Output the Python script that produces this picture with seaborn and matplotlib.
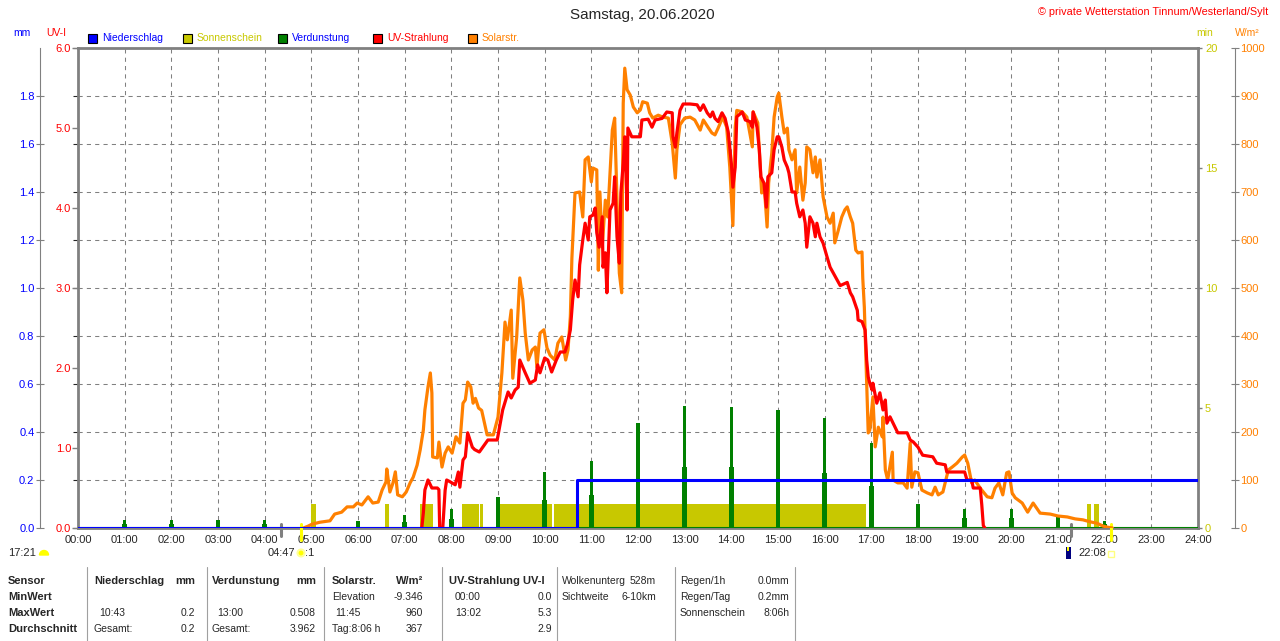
import numpy as np
import matplotlib
matplotlib.use("Agg")
import matplotlib.pyplot as plt
import matplotlib.transforms as mtrans
from matplotlib.patches import Rectangle, Wedge, Circle
from matplotlib.lines import Line2D
import seaborn as sns

# ---- data -------------------------------------------------------------
hours = list(range(25))
hour_labels = [f"{h:02d}:00" for h in hours]

# Solarstrahlung (W/m2), time in minutes after midnight
solar_t = [290, 296, 301, 311, 324, 330, 339, 346, 354, 359, 365, 373, 379, 386, 391, 396, 397, 401, 405, 408,
           411, 417, 422, 427, 431, 436, 440, 444, 446, 450, 453, 455, 456, 462, 464, 468, 472, 476, 481, 486,
           491, 495, 498, 501, 505, 508, 511, 515, 519, 526, 534, 540, 545, 549, 552, 557, 559, 564, 568, 572,
           575, 579, 584, 588, 590, 594, 599, 603, 607, 613, 617, 622, 627, 630, 633, 635, 639, 645, 649, 652,
           656, 660, 662, 667, 669, 671, 674, 678, 681, 687, 690, 693, 696, 699, 701, 703, 706, 710, 714, 719,
           723, 726, 732, 735, 739, 746, 752, 759, 764, 768, 770, 774, 780, 787, 793, 800, 804, 810, 815, 819,
           823, 829, 834, 838, 842, 845, 847, 854, 860, 867, 868, 874, 879, 882, 886, 888, 892, 895, 899, 901,
           905, 908, 912, 914, 918, 922, 924, 928, 932, 935, 937, 941, 945, 948, 950, 954, 958, 963, 967, 971,
           973, 977, 982, 986, 989, 993, 996, 1000, 1003, 1008, 1009, 1011, 1016, 1018, 1022, 1025, 1029, 1034,
           1035, 1038, 1041, 1047, 1048, 1054, 1061, 1066, 1070, 1072, 1076, 1080, 1085, 1092, 1098, 1102, 1106,
           1112, 1119, 1124, 1130, 1137, 1140, 1144, 1149, 1153, 1160, 1169, 1175, 1179, 1184, 1189, 1194, 1197,
           1201, 1205, 1214, 1221, 1228, 1237, 1250, 1260, 1272, 1282, 1292, 1301, 1310, 1318, 1323, 1330]
solar_w = [0, 4, 8, 12, 15, 29, 33, 44, 44, 52, 48, 65, 52, 54, 79, 96, 123, 75, 94, 117,
           69, 65, 75, 94, 106, 131, 163, 204, 246, 294, 323, 281, 148, 146, 179, 127, 156, 169, 156, 190,
           177, 260, 267, 304, 294, 260, 270, 250, 245, 194, 194, 231, 323, 429, 392, 454, 312, 398, 521, 475,
           406, 350, 371, 377, 335, 406, 413, 375, 360, 350, 385, 398, 350, 371, 440, 562, 698, 700, 648, 767,
           773, 721, 750, 746, 537, 700, 585, 683, 648, 829, 854, 683, 531, 490, 885, 958, 913, 902, 877, 865,
           871, 888, 885, 865, 854, 860, 856, 854, 802, 729, 788, 840, 854, 856, 850, 829, 850, 835, 823, 819,
           833, 856, 835, 752, 630, 835, 870, 867, 856, 794, 867, 844, 698, 719, 627, 719, 781, 856, 898, 906,
           856, 823, 833, 788, 767, 788, 698, 752, 683, 719, 794, 788, 740, 773, 731, 767, 690, 648, 635, 656,
           594, 617, 648, 663, 669, 648, 635, 579, 573, 575, 520, 460, 198, 204, 273, 169, 210, 190,
           231, 121, 100, 158, 100, 94, 94, 83, 177, 85, 117, 115, 79, 73, 69, 85, 69,
           75, 121, 127, 135, 148, 152, 135, 94, 100, 83, 65, 63, 83, 94, 69, 115, 117,
           73, 63, 52, 33, 52, 31, 29, 25, 23, 19, 17, 13, 10, 4, 2, 0]

# UV-Strahlung (UV-Index)
uv_t = [442, 444, 446, 450, 455, 462, 464, 465, 469, 472, 474, 478, 485, 489, 491, 495, 498, 501, 507, 510,
        516, 527, 539, 546, 553, 557, 562, 566, 568, 575, 581, 588, 591, 594, 600, 604, 609, 615, 620, 626,
        629, 633, 636, 639, 643, 645, 649, 652, 656, 658, 662, 665, 667, 670, 674, 675, 678, 680, 684, 688,
        690, 693, 696, 698, 701, 703, 706, 707, 712, 723, 725, 733, 738, 742, 751, 757, 764, 765, 768, 770,
        774, 778, 787, 796, 800, 804, 809, 813, 816, 819, 823, 828, 832, 836, 840, 842, 845, 847, 854, 858,
        864, 867, 868, 873, 876, 878, 882, 885, 887, 892, 895, 899, 901, 905, 908, 912, 914, 918, 922, 924,
        928, 932, 935, 937, 941, 945, 948, 950, 954, 958, 963, 967, 971, 976, 980, 989, 993, 996, 1002, 1003,
        1008, 1012, 1014, 1016, 1018, 1021, 1022, 1027, 1031, 1035, 1038, 1040, 1044, 1048, 1054, 1066, 1070,
        1074, 1080, 1086, 1099, 1104, 1115, 1117, 1140, 1143, 1149, 1151, 1160, 1162, 1164, 1166]
uv_i = [0, 0.19, 0.475, 0.6, 0.5, 0.5, 0.48, 0, 0, 0.47, 0.6, 0.58, 0.54, 0.7, 0.51, 0.85, 0.89, 1.19, 1.01, 0.98,
        0.95, 1.1, 1.1, 1.475, 1.7, 1.625, 1.725, 1.76, 2.1, 1.94, 1.81, 1.85, 2.04, 1.94, 2.125, 2.1, 1.95, 2.1, 2.2, 2.2,
        2.29, 2.475, 2.85, 3.1, 2.89, 3.29, 3.6, 3.81, 3.6, 3.89, 3.91, 4.0, 3.69, 3.51, 3.89, 3.26, 3.44, 2.94, 3.975, 4.06,
        4.39, 3.64, 3.31, 4.19, 4.56, 4.89, 3.975, 5.0, 4.89, 4.89, 5.1, 5.11, 5.01, 5.1, 5.12, 5.2, 5.19, 4.89, 4.76, 4.94,
        5.22, 5.3, 5.3, 5.29, 5.22, 5.29, 5.19, 5.14, 5.2, 5.12, 5.08, 5.19, 5.12, 4.95, 4.56, 4.26, 4.51, 5.14, 5.2, 5.1,
        5.08, 5.01, 5.2, 5.01, 4.73, 4.39, 4.31, 4.01, 4.39, 4.44, 4.73, 4.89, 4.89, 4.76, 4.6, 4.51, 4.44, 4.2, 4.2, 4.06,
        3.89, 3.975, 3.81, 3.51, 3.89, 3.81, 3.64, 3.81, 3.64, 3.56, 3.39, 3.26, 3.19, 3.1, 3.03, 3.07, 2.94, 2.89, 2.72, 2.6,
        2.58, 2.475, 2.1, 1.89, 1.81, 1.725, 1.81, 1.56, 1.69, 1.475, 1.6, 1.31, 1.39, 1.31, 1.19, 1.19, 1.1,
        1.075, 1.01, 0.91, 0.89, 0.81, 0.79, 0.7, 0.7, 0.6, 0.6, 0.5, 0.5, 0.29, 0.03, 0]

# Verdunstung (mm), hourly values
evap_hour = [1, 2, 3, 4, 6, 7, 8, 9, 10, 11, 12, 13, 14, 15, 16, 17, 18, 19, 20, 21, 22]
evap_mm = [0.033, 0.033, 0.033, 0.033, 0.03, 0.054, 0.079, 0.129, 0.233, 0.279, 0.4375, 0.508, 0.505,
           0.49, 0.46, 0.354, 0.10, 0.08, 0.08, 0.054, 0.03]

# Sonnenschein (min per minute), intervals in minutes
sun_start = [300, 395, 440, 494, 517, 543, 612, 1297, 1306]
sun_end = [306, 400, 456, 516, 521, 609, 1013, 1302, 1313]
sun_min = [1.0, 1.0, 1.0, 1.0, 1.0, 1.0, 1.0, 1.0, 1.0]

# Niederschlag (mm)
rain_t = [0, 641, 642, 1440]
rain_mm = [0.0, 0.1, 0.2, 0.2]

moonrise, sunrise, moonset, sunset = 4 + 21 / 60, 4 + 47 / 60, 21 + 17 / 60, 22 + 8 / 60

BLUE, RED, ORANGE, OLIVE, GREEN, GREY = "#0000FF", "#FF0000", "#FF8000", "#C8C800", "#008000", "#808080"

sns.set_style("white")
plt.rcParams['font.family'] = ['Liberation Sans', 'DejaVu Sans']
FS = 7.5
TFS = 8

W, H = 1280, 641


def fx(x):
    return x / W


def fy(y):
    return 1 - y / H


fig = plt.figure(figsize=(12.8, 6.41), dpi=100)
ax = fig.add_axes([fx(78), fy(528), 1120 / W, 480 / H])

# host: frame + grid
ax.set_xlim(0, 24)
ax.set_ylim(0, 2)
ax.set_xticks(hours)
ax.set_xticklabels(hour_labels, fontsize=TFS)
ax.set_yticks(np.arange(0, 2.01, 0.2))
ax.tick_params(axis='y', left=False, labelleft=False)
ax.tick_params(axis='x', length=0, pad=5)
ax.grid(True, color=GREY, linestyle=(0, (4, 4)), linewidth=0.75)
for s in ax.spines.values():
    s.set_color(GREY)
    s.set_linewidth(2)


def twin():
    t = ax.twinx()
    for s in t.spines.values():
        s.set_visible(False)
    t.grid(False)
    return t


# sunshine bars
ax_min = twin()
ax_min.bar(np.array(sun_start) / 60, sun_min, width=(np.array(sun_end) - np.array(sun_start)) / 60,
           align='edge', color=OLIVE, linewidth=0)
ax_min.set_ylim(0, 20)
ax_min.set_yticks([0, 5, 10, 15, 20])
ax_min.tick_params(axis='y', right=True, length=3, width=1, color=GREY, labelcolor=OLIVE,
                   labelsize=TFS, pad=2)

# evaporation + mm axis
ax_ev = twin()
ax_ev.axhline(0, color=GREEN, lw=1.5)
ax_ev.bar(evap_hour, np.array(evap_mm) / 2, width=0.1, color=GREEN, linewidth=0)
ax_ev.bar(evap_hour, evap_mm, width=0.065, color=GREEN, linewidth=0)
ax_ev.set_ylim(0, 2)
ax_ev.yaxis.tick_left()
ax_ev.spines['left'].set_visible(True)
ax_ev.spines['left'].set_position(('outward', 27.4))
ax_ev.spines['left'].set_color(GREY)
ax_ev.spines['left'].set_linewidth(0.8)
ax_ev.set_yticks(np.arange(0, 1.81, 0.2))
ax_ev.set_yticklabels([f"{v:.1f}" for v in np.arange(0, 1.81, 0.2)])
ax_ev.tick_params(axis='y', left=True, right=False, labelleft=True, labelright=False, direction='inout',
                  length=6, width=0.8, color=GREY, labelcolor=BLUE, labelsize=TFS, pad=1)

# solar
ax_sol = twin()
sns.lineplot(x=np.array(solar_t) / 60, y=solar_w, ax=ax_sol, color=ORANGE, linewidth=2.3,
             estimator=None, sort=False)
ax_sol.set_ylim(0, 1000)
ax_sol.set_yticks(range(0, 1001, 100))
ax_sol.spines['right'].set_visible(True)
ax_sol.spines['right'].set_position(('outward', 26.6))
ax_sol.spines['right'].set_color(GREY)
ax_sol.spines['right'].set_linewidth(0.8)
ax_sol.tick_params(axis='y', right=True, direction='inout', length=6, width=0.8, color=GREY,
                   labelcolor=ORANGE, labelsize=TFS, pad=1)
ax_sol.set_ylabel("")

# UV
ax_uv = twin()
sns.lineplot(x=np.array(uv_t) / 60, y=uv_i, ax=ax_uv, color=RED, linewidth=2.3,
             estimator=None, sort=False)
ax_uv.set_ylim(0, 6)
ax_uv.yaxis.tick_left()
ax_uv.set_yticks(range(7))
ax_uv.set_yticklabels([f"{v:.1f}" for v in range(7)])
ax_uv.tick_params(axis='y', left=True, right=False, labelleft=True, labelright=False, length=4,
                  width=1, color=GREY, labelcolor=RED, labelsize=TFS, pad=1)
ax_uv.set_ylabel("")

# precipitation on top
ax_pr = twin()
ax_pr.plot(np.array(rain_t) / 60, rain_mm, color=BLUE, lw=2.2, drawstyle='steps-post')
ax_pr.set_ylim(0, 2)
ax_pr.set_yticks([])
ax.set_xlim(0, 24)

# sun / moon markers below axis
for t in (moonrise, moonset):
    ax.axvline(t, ymin=-0.017, ymax=0.008, color=GREY, lw=2.2, clip_on=False)
for t in (sunrise, sunset):
    ax.axvline(t, ymin=-0.024, ymax=0.008, color='#FFFF00', lw=2.2, clip_on=False, zorder=5)

# ---- texts --------------------------------------------------------------
fig.text(fx(642), fy(15), "Samstag, 20.06.2020", ha='center', va='center', fontsize=11)
fig.text(fx(1268), fy(12), "\u00a9 private Wetterstation Tinnum/Westerland/Sylt", ha='right', va='center',
         fontsize=7.8, color=RED)
fig.text(fx(22), fy(33), "mm", ha='center', va='center', fontsize=FS, color=BLUE)
fig.text(fx(56), fy(33), "UV-I", ha='center', va='center', fontsize=FS, color=RED)
fig.text(fx(1205), fy(33), "min", ha='center', va='center', fontsize=FS, color=OLIVE)
fig.text(fx(1247), fy(33), "W/m\u00b2", ha='center', va='center', fontsize=FS, color=ORANGE)

legend_items = [("Niederschlag", BLUE, BLUE), ("Sonnenschein", OLIVE, OLIVE), ("Verdunstung", GREEN, BLUE),
                ("UV-Strahlung", RED, RED), ("Solarstr.", ORANGE, ORANGE)]
for i, (lab, fc, tc) in enumerate(legend_items):
    x0 = 88 + 95 * i
    fig.add_artist(Rectangle((fx(x0), fy(43)), 9 / W, 9 / H, transform=fig.transFigure,
                             facecolor=fc, edgecolor='black', lw=0.8))
    fig.text(fx(x0 + 14), fy(38), lab, ha='left', va='center', fontsize=FS, color=tc)

ident = mtrans.IdentityTransform()
fig.text(fx(8), fy(553), "17:21", ha='left', va='center', fontsize=TFS)
fig.add_artist(Wedge((44, H - 555), 4.5, 0, 180, transform=ident, color='#FFFF00'))
fig.text(fx(295), fy(553), "04:47", ha='right', va='center', fontsize=TFS)
fig.add_artist(Circle((301, H - 553), 3.5, transform=ident, facecolor='#FFFF00', edgecolor='#FFFF99', lw=1.5))
fig.text(fx(305), fy(553), ":1", ha='left', va='center', fontsize=TFS)
fig.add_artist(Rectangle((1066, H - 559), 5, 12, transform=ident, facecolor='#000080', lw=0))
fig.add_artist(Rectangle((1067, H - 551), 2, 4, transform=ident, facecolor='#FFFF00', lw=0))
fig.text(fx(1078), fy(553), "22:08", ha='left', va='center', fontsize=TFS)
fig.add_artist(Rectangle((1108, H - 557), 6, 6, transform=ident, facecolor='none', edgecolor='#FFFF80', lw=1))

# bottom table
rows = [581, 597, 613, 629]
cells = [
    (8, 0, "Sensor", 'left', True), (8, 1, "MinWert", 'left', True), (8, 2, "MaxWert", 'left', True),
    (8, 3, "Durchschnitt", 'left', True),
    (94, 0, "Niederschlag", 'left', True), (195, 0, "mm", 'right', True),
    (99, 2, "10:43", 'left', False), (195, 2, "0.2", 'right', False),
    (94, 3, "Gesamt:", 'left', False), (195, 3, "0.2", 'right', False),
    (212, 0, "Verdunstung", 'left', True), (316, 0, "mm", 'right', True),
    (217, 2, "13:00", 'left', False), (316, 2, "0.508", 'right', False),
    (212, 3, "Gesamt:", 'left', False), (316, 3, "3.962", 'right', False),
    (332, 0, "Solarstr.", 'left', True), (423, 0, "W/m\u00b2", 'right', True),
    (332, 1, "Elevation", 'left', False), (423, 1, "-9.346", 'right', False),
    (335, 2, "11:45", 'left', False), (423, 2, "960", 'right', False),
    (332, 3, "Tag:8:06 h", 'left', False), (423, 3, "367", 'right', False),
    (449, 0, "UV-Strahlung UV-I", 'left', True),
    (455, 1, "00:00", 'left', False), (552, 1, "0.0", 'right', False),
    (455, 2, "13:02", 'left', False), (552, 2, "5.3", 'right', False),
    (552, 3, "2.9", 'right', False),
    (562, 0, "Wolkenunterg", 'left', False), (656, 0, "528m", 'right', False),
    (562, 1, "Sichtweite", 'left', False), (656, 1, "6-10km", 'right', False),
    (680, 0, "Regen/1h", 'left', False), (789, 0, "0.0mm", 'right', False),
    (680, 1, "Regen/Tag", 'left', False), (789, 1, "0.2mm", 'right', False),
    (680, 2, "Sonnenschein", 'left', False), (789, 2, "8:06h", 'right', False),
]
for x, r, txt, ha, bold in cells:
    fig.text(fx(x), fy(rows[r]), txt, ha=ha, va='center', fontsize=8 if bold else FS,
             fontweight='bold' if bold else 'normal')
for x in [87, 207, 324, 442, 557, 675, 795]:
    fig.add_artist(Line2D([fx(x), fx(x)], [fy(567), fy(641)], transform=fig.transFigure,
                          color='#A0A0A0', lw=0.8))

fig.savefig('out.png', dpi=100)
